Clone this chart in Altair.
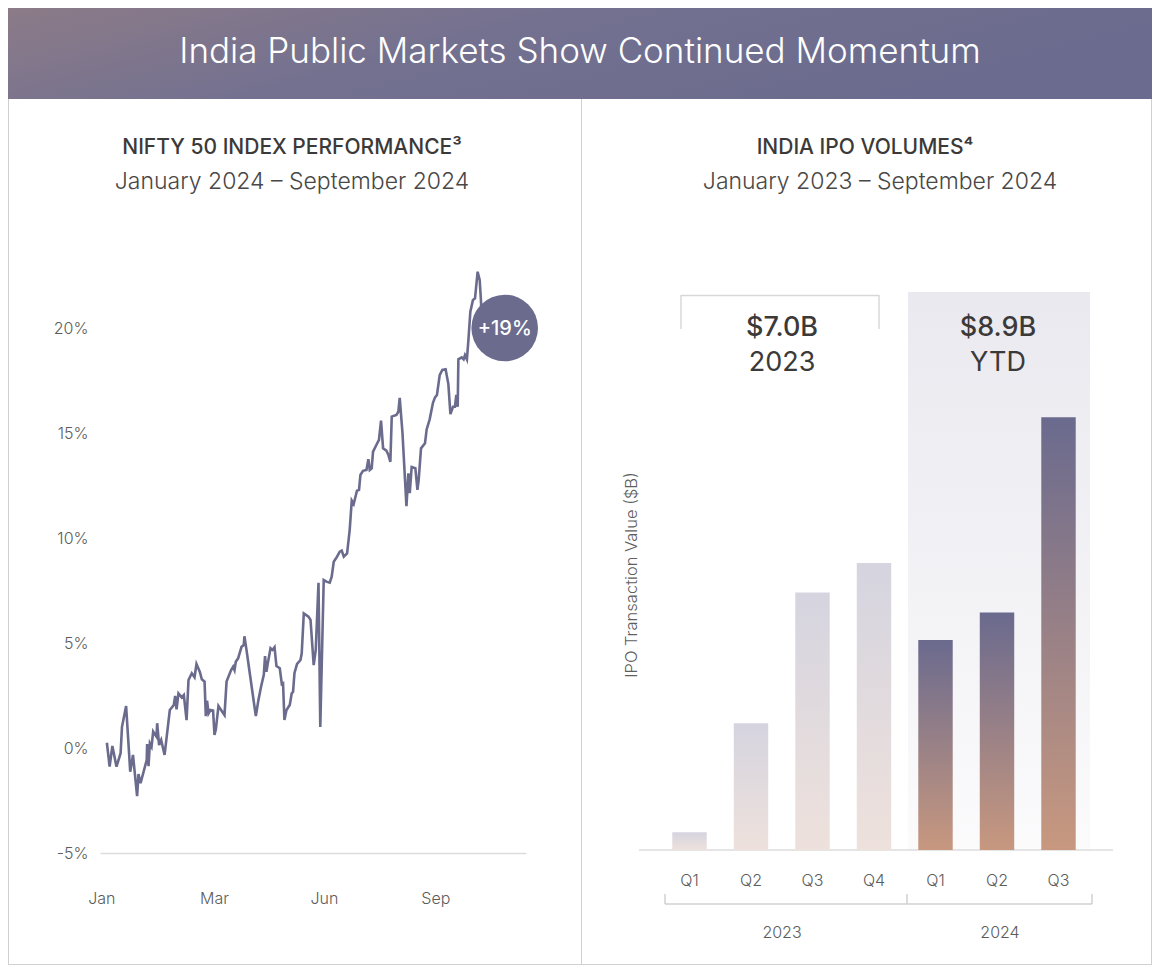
import altair as alt
import pandas as pd

# ---------------- data ----------------
# NIFTY 50 cumulative performance (%), x = days since 1 Jan 2024
nifty_day = [0, 2, 4, 7, 10, 11, 14, 17, 19, 22,
             23, 24.5, 29, 29.3, 30.3, 31.3, 32.5, 33.7, 36.1, 36.6,
             38, 39.5, 42, 45.8, 48.7, 49.7, 50.7, 52.1, 54.5, 56,
             58, 59.4, 61.8, 63.8, 65.2, 67.6, 69.1, 71.1, 72, 72.9,
             74, 75.4, 77.3, 78.3, 79.3, 81.2, 83.1, 85.6, 87.1, 90.4,
             91.9, 92.9, 93.8, 95.5, 98, 99.6, 100.1, 101.6, 104, 106.4,
             108.4, 110.3, 112.2, 114.2, 115.1, 116.1, 117.1, 119.1, 120.5, 122,
             123.4, 125.8, 127.3, 128.2, 129.2, 130.7, 133.1, 134.5, 135.5, 136.5,
             138.4, 140.9, 141.8, 143.3, 146.7, 148.2, 150.5, 152, 154, 155.3,
             157.8, 159.8, 162.2, 163.6, 165.1, 167.5, 169.5, 170.9, 172.4, 174.8,
             176.7, 178.2, 179.6, 182, 183.5, 184.5, 186.4, 188.9, 190.3, 191.3,
             192.7, 193.7, 196.1, 198, 199.5, 201, 203.4, 204.9, 206.3, 207.3,
             210.7, 212.1, 213.1, 215.1, 218, 219.4, 220.4, 221.8, 224.5, 226,
             226.9, 228.6, 231.5, 232.7, 234.9, 237.3, 238.8, 240.2, 242.2, 244.1,
             246.5, 248.5, 250, 251.9, 253.3, 254.3, 255.3, 255.8, 258.2, 259.6,
             260.6, 262, 263.1, 264.5, 266.4, 267.9, 269.8, 271.3, 272.2, 273.1,
             274]
nifty_pct = [0.25, -0.89, 0.10, -0.89, -0.25, 1.01, 2.0, -1.13, -0.33, -2.29,
             -1.24, -1.68, -0.57, 0.19, -0.86, 0.22, 0.06, 0.78, 0.54, 1.18,
             0.14, 0.38, -0.33, 1.81, 2.05, 2.48, 1.84, 2.60, 2.41, 2.52,
             1.33, 3.24, 3.56, 3.37, 4.0, 3.63, 3.27, 3.16, 1.52, 2.25,
             1.65, 1.81, 1.78, 0.62, 0.89, 2.0, 1.81, 1.57, 3.16, 3.71,
             3.87, 3.71, 4.11, 4.27, 4.82, 4.90, 5.32, 4.67, 3.56, 2.44,
             1.52, 2.29, 2.92, 3.48, 4.38, 3.63, 4.03, 4.75, 4.67, 4.80,
             3.90, 3.80, 3.05, 3.08, 1.33, 1.81, 2.05, 2.60, 2.68, 3.56,
             4.0, 4.19, 4.51, 6.41, 6.25, 6.10, 3.95, 4.67, 7.87, 1.0,
             8.0, 7.92, 7.87, 8.16, 8.87, 9.11, 9.35, 9.40, 9.11, 9.27,
             10.38, 11.78, 11.62, 12.25, 12.29, 13.0, 13.20, 13.24, 13.75, 13.24,
             13.32, 14.11, 14.43, 14.67, 15.59, 14.27, 14.16, 13.95, 13.63, 15.78,
             15.86, 16.01, 16.67, 15.02, 11.52, 13.08, 12.13, 13.38, 13.32, 12.29,
             12.76, 14.27, 14.51, 15.17, 15.65, 16.44, 16.70, 16.81, 17.76, 18.0,
             18.03, 17.33, 15.90, 16.25, 16.25, 16.81, 16.25, 18.51, 18.60, 18.51,
             18.71, 18.51, 19.43, 20.78, 21.33, 21.41, 22.68, 22.29, 21.33, 19.67,
             19.0]
x_tick_days = [-4, 78, 158, 239]
x_tick_labels = ["Jan", "Mar", "Jun", "Sep"]
y_ticks = [-5, 0, 5, 10, 15, 20]
badge_day = [289.5]
badge_pct = [20]
badge_label = ["+19%"]

# India IPO volumes ($B)
quarters = ["Q1", "Q2", "Q3", "Q4", "Q1", "Q2", "Q3"]
years = ["2023", "2023", "2023", "2023", "2024", "2024", "2024"]
ipo_values = [0.18, 1.28, 2.60, 2.90, 2.12, 2.40, 4.37]
year_names = ["2023", "2024"]
year_totals = ["$7.0B", "$8.9B"]
year_total_sub = ["2023", "YTD"]

# ---------------- layout ----------------
W, H = 1144, 957
FONT = "Inter"
PURPLE = "#6b6b8e"
TXT = "#3c3939"
GREY = "#5c5c5c"
one = pd.DataFrame({"k": [0]})


def rule(x1, y1, x2, y2, color="#d4d4d4", width=1.5):
    enc = dict(x=alt.value(x1), y=alt.value(y1))
    if x2 != x1:
        enc["x2"] = alt.value(x2)
    if y2 != y1:
        enc["y2"] = alt.value(y2)
    return alt.Chart(one).mark_rule(color=color, strokeWidth=width).encode(**enc)


def label(text, x, y, size, weight=400, color=TXT, angle=0):
    kw = dict(font=FONT, fontSize=size, fontWeight=weight, color=color,
              align="center", baseline="middle")
    if angle:
        kw["angle"] = angle
    return alt.Chart(one).mark_text(**kw).encode(
        x=alt.value(x), y=alt.value(y), text=alt.value(text))


def vgrad(top, bottom):
    return alt.LinearGradient(gradient="linear", x1=0, x2=0, y1=0, y2=1,
                              stops=[alt.GradientStop(color=top, offset=0),
                                     alt.GradientStop(color=bottom, offset=1)])


layers = []

# header banner
header_grad = alt.LinearGradient(
    gradient="linear", x1=0, x2=1, y1=0, y2=0.3,
    stops=[alt.GradientStop(color="#8c7b88", offset=0),
           alt.GradientStop(color="#747190", offset=0.45),
           alt.GradientStop(color="#6a6b8e", offset=1)])
layers.append(alt.Chart(one).mark_rect(color=header_grad).encode(
    x=alt.value(0), x2=alt.value(W), y=alt.value(0), y2=alt.value(91)))
layers.append(label("India Public Markets Show Continued Momentum", 572, 44, 35, 300, "#ffffff"))

# panel frames
layers.append(rule(0.5, 91, 0.5, H, "#d0d0d0", 1))
layers.append(rule(W - 0.5, 91, W - 0.5, H, "#d0d0d0", 1))
layers.append(rule(573.5, 91, 573.5, H, "#d0d0d0", 1))
layers.append(rule(0, H - 0.5, W, H - 0.5, "#d0d0d0", 1))

# ---------- left panel ----------
layers.append(label("NIFTY 50 INDEX PERFORMANCE³", 284, 140, 21, 500, TXT))
layers.append(label("January 2024 – September 2024", 284, 174, 23, 300, "#4a4747"))

nifty_df = pd.DataFrame({"day": nifty_day, "pct": nifty_pct})
badge_df = pd.DataFrame({"day": badge_day, "pct": badge_pct, "label": badge_label})

x_line = alt.Scale(domain=[-5, 305], range=[92, 518], nice=False, zero=False)
y_line = alt.Scale(domain=[-5, 20], range=[845, 320], nice=False, zero=False)
x_expr = " : ".join(f"datum.value == {d} ? '{t}'" for d, t in zip(x_tick_days, x_tick_labels)) + " : ''"

line = alt.Chart(nifty_df).mark_line(color=PURPLE, strokeWidth=2.6).encode(
    x=alt.X("day:Q", scale=x_line,
            axis=alt.Axis(orient="bottom", offset=845 - H, values=x_tick_days, labelExpr=x_expr,
                          domain=True, domainColor="#dcdcdc", domainWidth=1.5,
                          ticks=False, tickSize=0, grid=False, labelPadding=37,
                          labelFont=FONT, labelFontSize=16, labelFontWeight=300,
                          labelColor=GREY, labelFlush=False, labelOverlap=False,
                          labelBound=False, title=None)),
    y=alt.Y("pct:Q", scale=y_line,
            axis=alt.Axis(orient="left", offset=-92, values=y_ticks, labelExpr="datum.value + '%'",
                          domain=False, ticks=False, tickSize=0, grid=False, labelPadding=12,
                          labelFont=FONT, labelFontSize=16, labelFontWeight=300,
                          labelColor=GREY, labelFlush=False, labelOverlap=False,
                          labelBound=False, title=None)),
)
layers.append(line)

badge = alt.Chart(badge_df).mark_circle(size=4440, color=PURPLE, opacity=1).encode(
    x=alt.X("day:Q", scale=x_line, axis=None),
    y=alt.Y("pct:Q", scale=y_line, axis=None))
badge_text = alt.Chart(badge_df).mark_text(font=FONT, fontSize=20, fontWeight=500, color="#ffffff",
                                            align="center", baseline="middle", dy=1).encode(
    x=alt.X("day:Q", scale=x_line, axis=None),
    y=alt.Y("pct:Q", scale=y_line, axis=None),
    text="label:N")
layers += [badge, badge_text]

# ---------- right panel ----------
layers.append(label("INDIA IPO VOLUMES⁴", 857, 140, 21, 500, TXT))
layers.append(label("January 2023 – September 2024", 872, 174, 23, 300, "#4a4747"))

# 2024 highlight band
layers.append(alt.Chart(one).mark_rect(color=vgrad("#e9e9ef", "#fbfbfc")).encode(
    x=alt.value(900), x2=alt.value(1082), y=alt.value(284), y2=alt.value(842)))

# 2023 bracket
layers.append(rule(673, 287.5, 871, 287.5, "#d8d8d8"))
layers.append(rule(673, 287, 673, 321, "#d8d8d8"))
layers.append(rule(871, 287, 871, 321, "#d8d8d8"))

# totals
for name_x, total, sub in zip([774, 990], year_totals, year_total_sub):
    layers.append(label(total, name_x, 320, 27, 500, TXT))
    layers.append(label(sub, name_x, 355, 27, 400, TXT))

# baseline
layers.append(rule(631, 842, 1105, 842, "#dcdcdc", 1.5))

keys = [f"{y} {q}" for y, q in zip(years, quarters)]
bar_df = pd.DataFrame({"key": keys, "year": years, "value": ipo_values})
x_bar = alt.Scale(domain=keys, range=[650.75, 1081.25], paddingInner=0.44, paddingOuter=0.22)
y_bar = alt.Scale(domain=[0, 5], range=[842, 347], nice=False, zero=True)

bars23 = alt.Chart(bar_df).transform_filter(alt.datum.year == "2023").mark_bar(
    color=vgrad("#d5d4df", "#eee1dc")).encode(
    x=alt.X("key:N", scale=x_bar, axis=None),
    y=alt.Y("value:Q", scale=y_bar, axis=None))
bars24 = alt.Chart(bar_df).transform_filter(alt.datum.year == "2024").mark_bar(
    color=vgrad("#6a6a8e", "#c8987f")).encode(
    x=alt.X("key:N", scale=x_bar,
            axis=alt.Axis(orient="bottom", offset=842 - H, labelExpr="substring(datum.label, 5)",
                          domain=False, ticks=False, tickSize=0, grid=False, labelPadding=22,
                          labelAngle=0, labelFont=FONT, labelFontSize=16, labelFontWeight=300,
                          labelColor=GREY, title=None)),
    y=alt.Y("value:Q", scale=y_bar, axis=None))
layers += [bars23, bars24]

layers.append(label("IPO Transaction Value ($B)", 624, 567, 16.5, 300, "#5f5f5f", angle=270))

# year bracket below quarters
layers.append(rule(657, 896, 1084, 896, "#d0d0d0"))
for tx in [657, 899, 1084]:
    layers.append(rule(tx, 886, tx, 896, "#d0d0d0"))
for yx, yn in zip([774, 992], year_names):
    layers.append(label(yn, yx, 925, 16, 300, GREY))

chart = alt.layer(*layers).resolve_scale(x="independent", y="independent").properties(
    width=W, height=H, padding=0, background="white",
    autosize=alt.AutoSizeParams(type="none"),
).configure_view(stroke="transparent")

chart.save("out.html", embed_options={"renderer": "svg", "actions": False})
